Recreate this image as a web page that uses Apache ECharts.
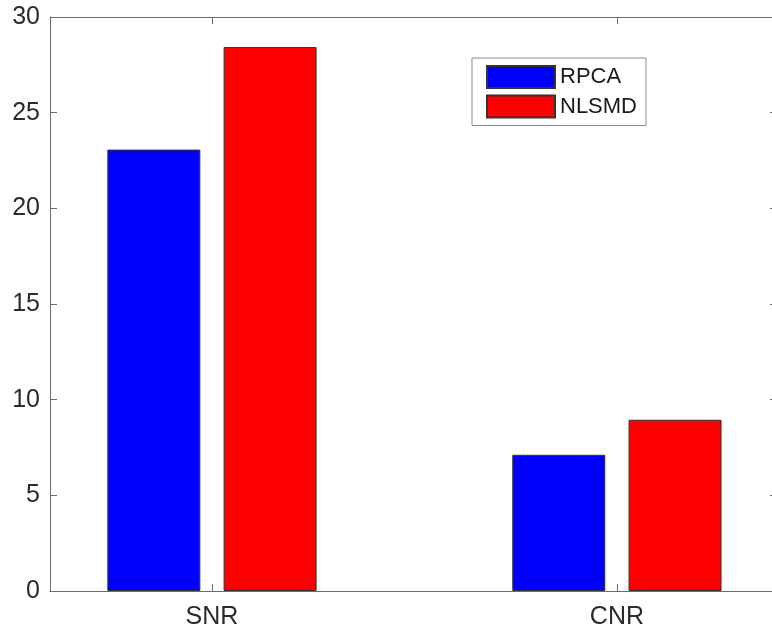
<!DOCTYPE html>
<html>
<head>
<meta charset="utf-8">
<script src="https://cdn.jsdelivr.net/npm/echarts@6/dist/echarts.min.js"></script>
<style>
  html, body { margin: 0; padding: 0; background: #fff; }
  #chart { width: 772px; height: 637px; }
</style>
</head>
<body>
<div id="chart"></div>
<script>
// Metrics and their values for each method
const categories = ['SNR', 'CNR'];
const rpcaValues = [23.07, 7.12];
const nlsmdValues = [28.43, 8.95];
const yTicks = [0, 5, 10, 15, 20, 25, 30];

// category positions on the numeric x axis (1, 2, ...)
const positions = categories.map((_, i) => i + 1);
const toPairs = vals => vals.map((v, i) => [positions[i], v]);

const axisColor = '#6b6b6b';
const textColor = '#2b2b2b';
const fontFamily = '"Liberation Sans", Arial, sans-serif';

const chart = echarts.init(document.getElementById('chart'), null, { renderer: 'canvas' });

chart.setOption({
  backgroundColor: '#ffffff',
  animation: false,
  textStyle: { fontFamily: fontFamily },
  grid: { left: 50, right: 0, top: 17, bottom: 46, containLabel: false },
  legend: {
    orient: 'vertical',
    left: 472,
    top: 58,
    itemWidth: 68,
    itemHeight: 22,
    itemGap: 5.5,
    padding: [7, 9, 7, 14],
    borderColor: '#8c8c8c',
    borderWidth: 1,
    backgroundColor: '#ffffff',
    icon: 'rect',
    textStyle: { fontSize: 22, lineHeight: 22, color: '#1a1a1a', fontFamily: fontFamily },
    data: ['RPCA', 'NLSMD']
  },
  xAxis: [
    {
      type: 'value',
      min: 0.6,
      max: 2.383,
      position: 'bottom',
      splitLine: { show: false },
      axisLine: { show: true, onZero: false, lineStyle: { color: axisColor, width: 1 } },
      axisTick: { show: true, inside: true, length: 7, customValues: positions, lineStyle: { color: axisColor } },
      axisLabel: {
        show: true,
        customValues: positions,
        margin: 14,
        fontSize: 25,
        color: textColor,
        formatter: v => categories[Math.round(v) - 1] || ''
      }
    },
    {
      type: 'value',
      min: 0.6,
      max: 2.383,
      position: 'top',
      splitLine: { show: false },
      axisLine: { show: true, onZero: false, lineStyle: { color: axisColor, width: 1 } },
      axisTick: { show: true, inside: true, length: 7, customValues: positions, lineStyle: { color: axisColor } },
      axisLabel: { show: false }
    }
  ],
  yAxis: [
    {
      type: 'value',
      min: yTicks[0],
      max: yTicks[yTicks.length - 1],
      interval: yTicks[1] - yTicks[0],
      position: 'left',
      splitLine: { show: false },
      axisLine: { show: true, onZero: false, lineStyle: { color: axisColor, width: 1 } },
      axisTick: { show: true, inside: true, length: 7, lineStyle: { color: axisColor } },
      axisLabel: { margin: 10, fontSize: 25, color: textColor }
    },
    {
      // right-hand frame edge lies at the canvas border; only tick stubs show
      type: 'value',
      min: yTicks[0],
      max: yTicks[yTicks.length - 1],
      interval: yTicks[1] - yTicks[0],
      position: 'right',
      splitLine: { show: false },
      axisLine: { show: false },
      axisTick: { show: true, inside: true, length: 2, lineStyle: { color: axisColor } },
      axisLabel: { show: false }
    }
  ],
  series: [
    {
      name: 'RPCA',
      type: 'bar',
      xAxisIndex: 0,
      yAxisIndex: 0,
      barWidth: 93,
      barGap: '25%',
      itemStyle: { color: '#0000ff', borderColor: '#333333', borderWidth: 1 },
      data: toPairs(rpcaValues)
    },
    {
      name: 'NLSMD',
      type: 'bar',
      xAxisIndex: 0,
      yAxisIndex: 0,
      barWidth: 93,
      barGap: '25%',
      itemStyle: { color: '#ff0000', borderColor: '#333333', borderWidth: 1 },
      data: toPairs(nlsmdValues)
    }
  ]
});
</script>
</body>
</html>
